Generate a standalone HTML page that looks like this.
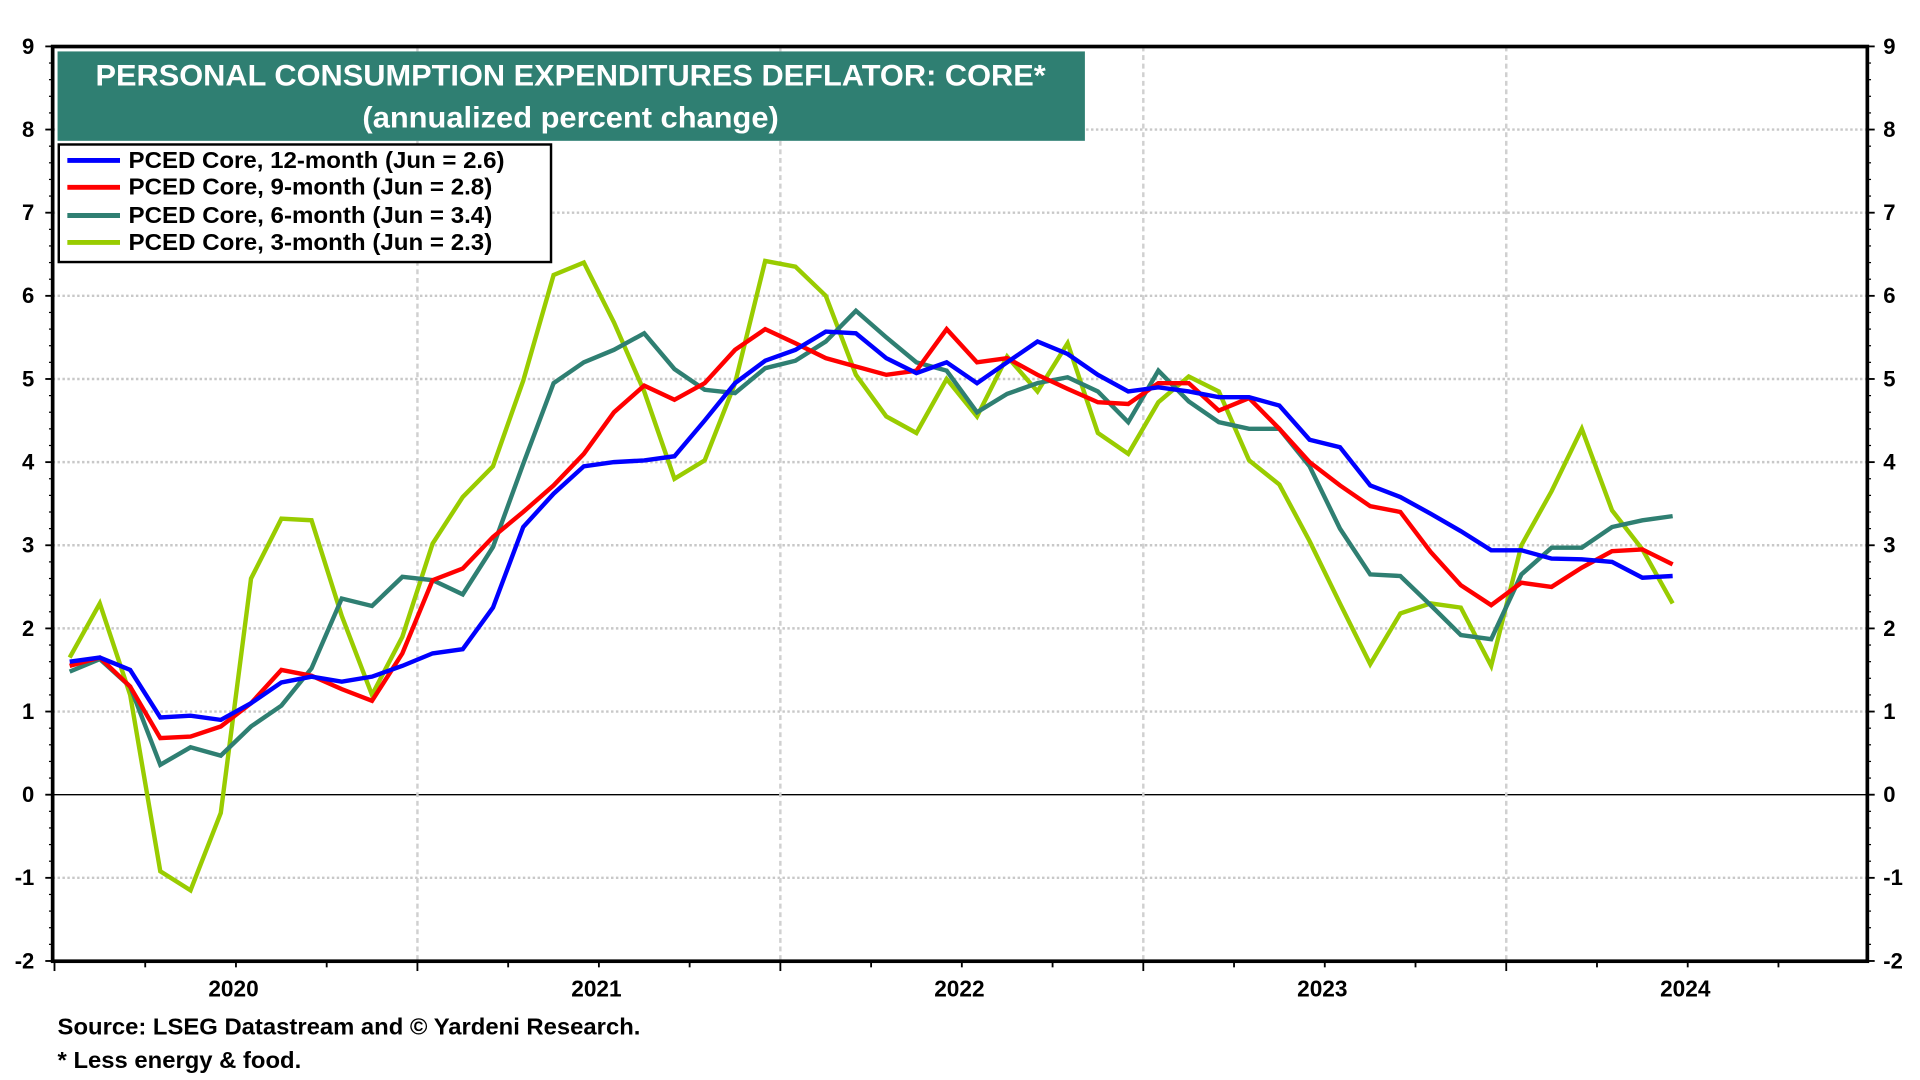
<!DOCTYPE html>
<html><head><meta charset="utf-8"><style>
html,body{margin:0;padding:0;background:#fff;}
svg{display:block;font-family:"Liberation Sans",Arial,sans-serif;font-weight:bold;}
</style></head><body>
<svg id="chart" width="1920" height="1080" viewBox="0 0 1568 882" preserveAspectRatio="none" xmlns="http://www.w3.org/2000/svg">
<g id="grid"></g>
<g id="series"></g>
<rect x="43" y="38" width="1482" height="747" fill="none" stroke="#000" stroke-width="3"/>
<g id="axes"></g>
<rect x="47" y="42" width="839" height="73" fill="#2F7F72"/>
<text x="466" y="70" fill="#fff" font-size="24" text-anchor="middle" textLength="776" lengthAdjust="spacingAndGlyphs">PERSONAL CONSUMPTION EXPENDITURES DEFLATOR: CORE*</text>
<text x="466" y="104" fill="#fff" font-size="24" text-anchor="middle" textLength="340" lengthAdjust="spacingAndGlyphs">(annualized percent change)</text>
<g>
<rect x="48" y="118" width="402" height="96" fill="#fff" stroke="#000" stroke-width="2"/>
<g><line x1="55" y1="131" x2="98" y2="131" stroke="#0000FF" stroke-width="4"/><text x="105" y="137" font-size="18.5" textLength="307" lengthAdjust="spacingAndGlyphs">PCED Core, 12-month (Jun = 2.6)</text></g>
<g><line x1="55" y1="153" x2="98" y2="153" stroke="#FF0000" stroke-width="4"/><text x="105" y="159" font-size="18.5" textLength="297" lengthAdjust="spacingAndGlyphs">PCED Core, 9-month (Jun = 2.8)</text></g>
<g><line x1="55" y1="176" x2="98" y2="176" stroke="#2F7F72" stroke-width="4"/><text x="105" y="182" font-size="18.5" textLength="297" lengthAdjust="spacingAndGlyphs">PCED Core, 6-month (Jun = 3.4)</text></g>
<g><line x1="55" y1="198" x2="98" y2="198" stroke="#99CC00" stroke-width="4"/><text x="105" y="204" font-size="18.5" textLength="297" lengthAdjust="spacingAndGlyphs">PCED Core, 3-month (Jun = 2.3)</text></g>
</g>
<text x="47" y="845" font-size="19" textLength="476" lengthAdjust="spacingAndGlyphs">Source: LSEG Datastream and © Yardeni Research.</text>
<text x="47" y="872" font-size="19" textLength="199" lengthAdjust="spacingAndGlyphs">* Less energy &amp; food.</text>
</svg>
<script>
const yTicks=[9,8,7,6,5,4,3,2,1,0,-1,-2];
const yearLabels=["2020","2021","2022","2023","2024"];
const s12=[1.6,1.65,1.5,0.93,0.95,0.9,1.1,1.35,1.42,1.36,1.42,1.55,1.7,1.75,2.25,3.22,3.62,3.95,4.0,4.02,4.07,4.5,4.95,5.22,5.35,5.57,5.55,5.25,5.07,5.2,4.95,5.2,5.45,5.3,5.05,4.85,4.9,4.85,4.78,4.78,4.68,4.27,4.18,3.72,3.58,3.38,3.17,2.94,2.94,2.84,2.83,2.8,2.61,2.63];
const s9=[1.55,1.65,1.3,0.68,0.7,0.82,1.1,1.5,1.43,1.27,1.13,1.7,2.58,2.72,3.1,3.4,3.72,4.1,4.6,4.92,4.75,4.95,5.35,5.6,5.43,5.25,5.15,5.05,5.1,5.6,5.2,5.25,5.05,4.88,4.72,4.7,4.95,4.95,4.62,4.77,4.4,4.0,3.72,3.47,3.4,2.92,2.52,2.28,2.55,2.5,2.73,2.93,2.95,2.77];
const s6=[1.48,1.63,1.3,0.36,0.57,0.47,0.82,1.07,1.52,2.36,2.27,2.62,2.58,2.41,2.98,3.98,4.95,5.2,5.35,5.55,5.12,4.87,4.83,5.13,5.22,5.45,5.82,5.5,5.2,5.1,4.6,4.82,4.95,5.02,4.85,4.48,5.1,4.73,4.48,4.4,4.4,3.95,3.2,2.65,2.63,2.28,1.92,1.87,2.65,2.97,2.97,3.22,3.3,3.35];
const s3=[1.65,2.3,1.2,-0.92,-1.15,-0.22,2.6,3.32,3.3,2.15,1.2,1.9,3.02,3.58,3.95,4.98,6.25,6.4,5.68,4.85,3.8,4.02,4.95,6.42,6.35,6.0,5.05,4.55,4.35,5.0,4.55,5.27,4.85,5.43,4.35,4.1,4.72,5.03,4.85,4.02,3.73,3.05,2.3,1.57,2.18,2.3,2.25,1.55,3.0,3.65,4.4,3.42,2.95,2.3];

const NS="http://www.w3.org/2000/svg";
const X0=44.5,MW=24.7,Y0=649,YU=67.9,L=43,R=1525,T=38,B=785;
const xm=i=>X0+(i+0.5)*MW;
const xb=m=>X0+m*MW;
const y=v=>Y0-v*YU;
function mk(tag,attrs,parent){const e=document.createElementNS(NS,tag);for(const k in attrs)e.setAttribute(k,attrs[k]);parent.appendChild(e);return e;}
const grid=document.getElementById('grid'),axes=document.getElementById('axes'),ser=document.getElementById('series');
yTicks.forEach(v=>{
  if(v!==9&&v!==-2){
    const g=mk('line',{x1:L,x2:R,y1:y(v),y2:y(v),stroke:v===0?'#000':'#c8c8c8','stroke-width':v===0?1.2:2,'stroke-dasharray':v===0?'':'2,2'},grid);
    
    
  }
  const t1=mk('text',{x:28,y:y(v)+6,'font-size':18,'text-anchor':'end'},axes);t1.textContent=v;
  
  
  const t2=mk('text',{x:1538,y:y(v)+6,'font-size':18},axes);t2.textContent=v;
  
  
  mk('line',{x1:L-6,x2:L,y1:y(v),y2:y(v),stroke:'#000','stroke-width':1.5},axes);
  mk('line',{x1:R,x2:R+6,y1:y(v),y2:y(v),stroke:'#000','stroke-width':1.5},axes);
});
for(let v=-2;v<9;v+=0.2){
  mk('line',{x1:L-3,x2:L,y1:y(v),y2:y(v),stroke:'#000','stroke-width':1},axes);
  mk('line',{x1:R,x2:R+3,y1:y(v),y2:y(v),stroke:'#000','stroke-width':1},axes);
}
for(let q=0;q<=20;q++){
  const x=xb(q*3);
  if(x>R)break;
  mk('line',{x1:x,x2:x,y1:B,y2:B+(q%4===0?8:5),stroke:'#000','stroke-width':1.5},axes);
  if(q%4===0&&q>0){
    const g=mk('line',{x1:x,x2:x,y1:T,y2:B,stroke:'#d0d0d0','stroke-width':2,'stroke-dasharray':'4,3'},grid);
    
    
  }
}
yearLabels.forEach((lab,i)=>{
  const t=mk('text',{x:xb(i*12+6)-2,y:814,'font-size':18.5,'text-anchor':'middle'},axes);t.textContent=lab;
  
  
});
[[s3,'#99CC00','series-3-month'],[s6,'#2F7F72','series-6-month'],[s9,'#FF0000','series-9-month'],[s12,'#0000FF','series-12-month']].forEach(([d,c,n])=>{
  const p=mk('polyline',{points:d.map((v,i)=>xm(i).toFixed(1)+','+y(v).toFixed(1)).join(' '),fill:'none',stroke:c,'stroke-width':3.6,'stroke-linejoin':'miter'},ser);
  
  
});
</script>
</body></html>
